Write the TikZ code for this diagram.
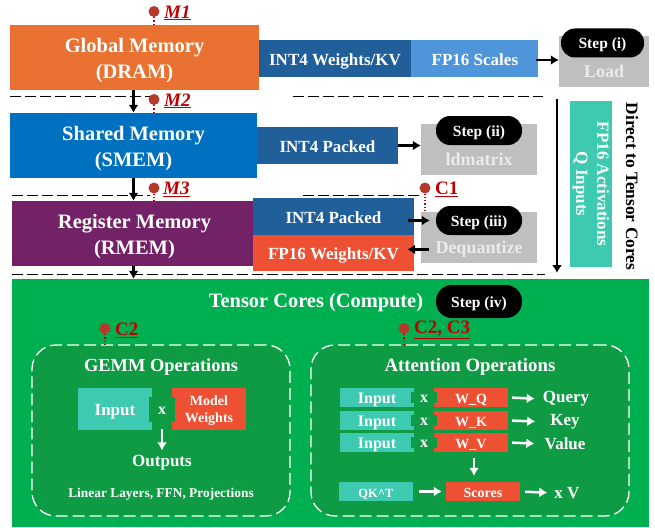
\documentclass[tikz,border=0pt]{standalone}
\usepackage{fontspec}
\setmainfont{Liberation Serif}
\usepackage{tikz}
\usetikzlibrary{positioning,arrows.meta}
\definecolor{dramorange}{HTML}{E97132}
\definecolor{smemblue}{HTML}{0070C0}
\definecolor{rmempurple}{HTML}{742267}
\definecolor{packedblue}{HTML}{215F9A}
\definecolor{scaleblue}{HTML}{4E95D9}
\definecolor{weightred}{HTML}{EE5034}
\definecolor{activteal}{HTML}{3DCAB0}
\definecolor{stepgrey}{HTML}{BFBFBF}
\definecolor{coregreen}{HTML}{00B050}
\definecolor{opsgreen}{HTML}{0E9B43}
\definecolor{pinred}{HTML}{B63A2B}
\definecolor{tagred}{HTML}{C00000}
\newcommand{\toplift}{\rule{0pt}{1em}}

\begin{document}
\begin{tikzpicture}[x=1pt ,y=-1pt ,>={Latex[length=8pt,width=10pt]} ,
	plain/.style ={rectangle ,inner sep =0pt ,align =center ,text =white ,font =\fontsize{17}{21}\selectfont\bfseries},
	box/.style ={plain ,text height =13pt ,text depth =0pt},
	memory/.style ={plain ,minimum height =65pt ,font =\fontsize{20.5}{26}\selectfont\bfseries},
	tensor/.style ={plain ,minimum width =74pt ,minimum height =19pt ,text height =11pt ,text depth =0pt ,font =\fontsize{14}{14}\selectfont\bfseries},
	tensorinput/.style ={tensor ,fill =activteal ,font =\fontsize{16}{16}\selectfont\bfseries},
	stepname/.style ={plain ,fill =stepgrey ,text =white!92!black ,font =\fontsize{18}{18}\selectfont\bfseries},
	pill/.style ={box ,fill =black ,rounded corners =14pt ,minimum height =29pt ,minimum width =86pt ,text height =11pt ,font =\fontsize{15.5}{16}\selectfont\bfseries},
	times/.style ={plain ,fill =opsgreen ,minimum width =26pt ,text height =10pt ,text depth =0pt ,font =\fontsize{16}{16}\selectfont\bfseries},
	lbl/.style ={inner sep =0pt ,yshift =-2pt ,text =white ,align =center ,font =\fontsize{17}{17}\selectfont\bfseries},
	pin/.style ={circle ,fill =pinred ,inner sep =0pt ,minimum size =11pt},
	tail/.style ={dotted ,very thick ,tagred},
	tag/.style ={inner sep =0pt ,text =tagred ,font =\fontsize{19}{19}\selectfont\bfseries},
	flow/.style ={->,line width =2.5pt ,black},
	whiteflow/.style ={->,line width =2.5pt ,white},
	level/.style ={dash pattern =on 11pt off 4pt ,line width =1pt},
	ops/.style ={draw =white ,fill =opsgreen ,line width =1.3pt ,dash pattern =on 12pt off 5pt ,rounded corners =24pt}]
	\useasboundingbox (0,0) rectangle (655,527);

	\node[plain ,fill =coregreen ,minimum width =637pt ,minimum height =248pt] (core) at (330.5,403) {};
	\node[ops ,minimum width =258pt ,minimum height =171pt] (gemm) at (161,430.5) {};
	\node[ops ,minimum width =318pt ,minimum height =171pt] (attn) at (470,430.5) {};

	\node[memory ,fill =dramorange ,minimum width =249pt] (global) at (134.5,57.5) {\toplift Global Memory\\(DRAM)};
	\node[memory ,fill =smemblue ,minimum width =247pt] (shared) at (133.5,145.5) {\toplift Shared Memory\\(SMEM)};
	\node[memory ,fill =rmempurple ,minimum width =245pt] (register) at (134.5,233.5) {\toplift Register Memory\\(RMEM)};

	\node[box ,fill =packedblue ,minimum width =152pt ,minimum height =37pt] (weights) at (335,58.5) {INT4 Weights/KV};
	\node[box ,fill =scaleblue ,minimum width =127pt ,minimum height =37pt ,right =0pt of weights] (scales) {FP16 Scales};
	\node[box ,fill =packedblue ,minimum width =141pt ,minimum height =37pt] (packeda) at (327.5,145.5) {INT4 Packed};
	\node[box ,fill =packedblue ,minimum width =161pt ,minimum height =37pt] (packedb) at (333.5,216.5) {INT4 Packed};
	\node[box ,fill =weightred ,minimum width =161pt ,minimum height =36pt ,below =0pt of packedb] (fpweights) {FP16 Weights/KV};

	\node[stepname ,minimum width =90pt ,minimum height =51pt] (load) at (604,61.5) {\raisebox{-15.5pt}[0pt][0pt]{Load}};
	\node[stepname ,minimum width =116pt ,minimum height =51pt] (ldmatrix) at (479,149.5) {\raisebox{-15.5pt}[0pt][0pt]{ldmatrix}};
	\node[stepname ,minimum width =116pt ,minimum height =51pt] (dequant) at (479,237.5) {\raisebox{-15.5pt}[0pt][0pt]{Dequantize}};
	\node[pill ,minimum width =83pt] (stepi) at (602.5,43) {Step (i)};
	\node[pill] (stepii) at (479,130.5) {Step (ii)};
	\node[pill] (stepiii) at (479,220.5) {Step (iii)};
	\node[pill ,minimum height =33pt ,rounded corners =16pt] (stepiv) at (479,301.5) {Step (iv)};

	\node[plain ,fill =activteal ,minimum width =166pt ,minimum height =42pt ,rotate =-90] (activ) at (591,184) {FP16 Activations\\Q Inputs};
	\node[plain ,text =black ,rotate =-90 ,font =\fontsize{17.4}{21}\selectfont\bfseries] (direct) at (632,186.5) {Direct to Tensor Cores};
	\node[lbl ,font =\fontsize{20.4}{20}\selectfont\bfseries] (title) at (316,301) {Tensor Cores (Compute)};

	\coordinate (directtop) at (557,99);
	\coordinate (directend) at (557,273);
	\coordinate (levela) at (10,96);
	\coordinate (levelb) at (150,96);
	\coordinate (levelc) at (293,96);
	\coordinate (leveld) at (543,96);
	\coordinate (levele) at (12,195);
	\coordinate (levelf) at (150,195);
	\coordinate (levelg) at (303,195);
	\coordinate (levelh) at (420,195);
	\coordinate (leveli) at (12,274);
	\coordinate (levelj) at (545,274);
	\draw[level] (levela) -- (levelb);
	\draw[level] (levelc) -- (leveld);
	\draw[level] (levele) -- (levelf);
	\draw[level] (levelg) -- (levelh);
	\draw[level] (leveli) -- (levelj);

	\draw[flow] (global.south -| shared.south) to (shared.north);
	\draw[flow] (shared.south) to (shared.south |- register.north);
	\draw[flow] (register.south -| shared.south) to (shared.south |- core.north);
	\draw[flow] (directtop) to (directend);
	\draw[flow ,shorten <=-3pt] ([yshift=-1.5pt]scales.east) to ([yshift=-1.5pt]load.west |- scales.east);
	\draw[flow] (packeda.east) to (ldmatrix.west |- packeda.east);
	\draw[flow ,shorten <=-6pt ,shorten >=6pt] (packedb.east |- stepiii.west) to (stepiii.west);
	\draw[flow ,shorten <=-8pt ,shorten >=-7pt] ([yshift=4pt]dequant.west |- fpweights.east) to ([yshift=4pt]fpweights.east);

	\node[pin] (pinma) at (154,11.5) {};
	\node[pin] (pinmb) at (154,99.5) {};
	\node[pin] (pinmc) at (154,188) {};
	\node[pin] (pinca) at (425,188) {};
	\node[pin] (pincb) at (105,328.5) {};
	\node[pin] (pincc) at (404,328.5) {};
	\draw[tail] (pinma.south) to (pinma.south |- global.north);
	\draw[tail] (pinmb.south) to (pinmb.south |- shared.north);
	\draw[tail] (pinmc.south) to (pinmc.south |- register.north);
	\draw[tail] (pinca.south) to (pinca.south |- dequant.north);
	\draw[tail] (pincb.south) to (pincb.south |- gemm.north);
	\draw[tail] (pincc.south) to (pincc.south |- attn.north);
	\node[tag ,anchor =west] (tagma) at (164,13) {\underline{\textit{M1}}};
	\node[tag ,anchor =west] (tagmb) at (164,101) {\underline{\textit{M2}}};
	\node[tag ,anchor =west] (tagmc) at (163,189) {\underline{\textit{M3}}};
	\node[tag ,anchor =west] (tagca) at (435,189) {\underline{C1}};
	\node[tag ,anchor =west] (tagcb) at (115,330) {\underline{C2}};
	\node[tag ,anchor =west] (tagcc) at (414,330) {\underline{C2, C3}};

	\node[lbl ,font =\fontsize{18.4}{18}\selectfont\bfseries] (gemmtitle) at (161,365) {GEMM Operations};
	\node[box ,fill =activteal ,minimum width =74pt ,minimum height =42pt] (input) at (115,409) {Input};
	\node[plain ,fill =weightred ,minimum width =74pt ,minimum height =42pt ,font =\fontsize{14}{17}\selectfont\bfseries] (model) at (209,409) {\toplift Model\\Weights};
	\node[times ,minimum height =25pt] (xgemm) at (162,409.5) {x};
	\node[lbl] (outputs) at (162,461) {Outputs};
	\node[lbl ,font =\fontsize{13.4}{14}\selectfont\bfseries] (layers) at (161,492) {Linear Layers, FFN, Projections};
	\draw[whiteflow ,shorten <=7pt ,shorten >=5pt] (xgemm.south) to (outputs.north);

	\node[lbl ,font =\fontsize{18.8}{18}\selectfont\bfseries] (attntitle) at (470,365) {Attention Operations};
	\node[tensorinput] (inputq) at (377,397.5) {Input};
	\node[tensorinput] (inputk) at (377,420.5) {Input};
	\node[tensorinput] (inputv) at (377,442.5) {Input};
	\node[tensor ,fill =weightred] (wq) at (471,397.5) {W\_Q};
	\node[tensor ,fill =weightred] (wk) at (471,420.5) {W\_K};
	\node[tensor ,fill =weightred] (wv) at (471,442.5) {W\_V};
	\node[times ,minimum height =11pt] (xq) at (424,397.5) {x};
	\node[times ,minimum height =11pt] (xk) at (424,420.5) {x};
	\node[times ,minimum height =11pt] (xv) at (424,442.5) {x};
	\node[lbl] (query) at (566,397) {Query};
	\node[lbl] (key) at (565,420) {Key};
	\node[lbl] (value) at (565,442) {Value};
	\node[tensor ,fill =activteal ,font =\fontsize{12.5}{14}\selectfont\bfseries] (qkt) at (376,491.5) {QK\textasciicircum T};
	\node[tensor ,fill =weightred] (scores) at (483,491.5) {Scores};
	\node[lbl] (xvalue) at (567,491) {x V};
	\draw[whiteflow ,shorten <=4pt ,shorten >=8pt] (wq.east) to (query.west);
	\draw[whiteflow ,shorten <=4pt ,shorten >=15pt] (wk.east) to (key.west);
	\draw[whiteflow ,shorten <=4pt ,shorten >=10pt] (wv.east) to (value.west);
	\draw[whiteflow ,shorten <=6pt ,shorten >=4pt] (qkt.east) to (scores.west);
	\draw[whiteflow ,shorten <=5pt ,shorten >=7pt] (scores.east) to (xvalue.west);
	\draw[whiteflow ,shorten <=6pt ,shorten >=6pt] ([xshift=4pt]attntitle.south |- wv.south) to ([xshift=4pt]attntitle.south |- scores.north);
\end{tikzpicture}
\end{document}
